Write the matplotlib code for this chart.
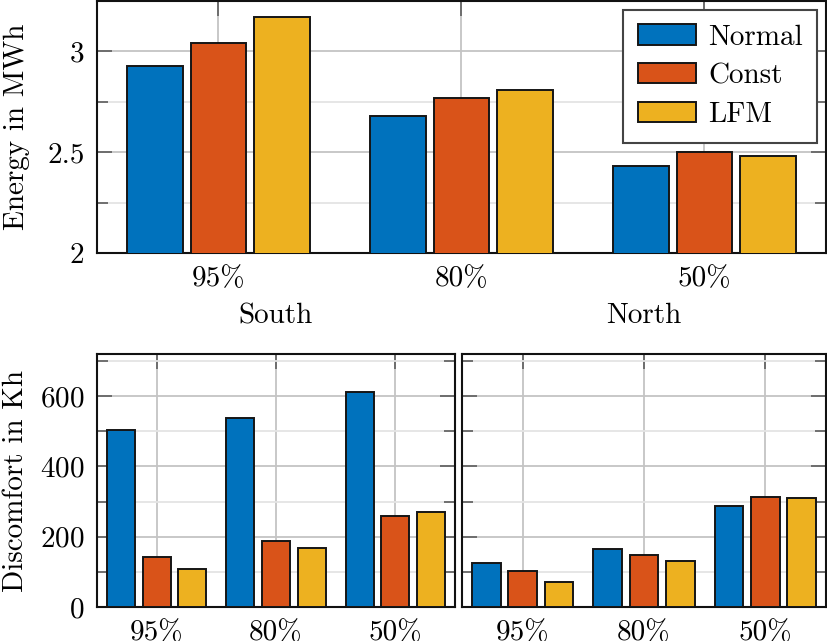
import numpy as np
import matplotlib
matplotlib.use('Agg')
import matplotlib.pyplot as plt
from matplotlib.ticker import MultipleLocator

plt.rcParams['font.family'] = 'cmr10'
plt.rcParams['mathtext.fontset'] = 'cm'
plt.rcParams['axes.formatter.use_mathtext'] = True

groups = ['95%', '80%', '50%']
series = ['Normal', 'Const', 'LFM']
colors = ['#0072BD', '#D95319', '#EDB120']

energy_normal = [2.93, 2.68, 2.43]
energy_const = [3.04, 2.77, 2.50]
energy_lfm = [3.17, 2.81, 2.48]

south_normal = [503, 537, 611]
south_const = [142, 187, 259]
south_lfm = [107, 168, 270]

north_normal = [124, 164, 287]
north_const = [102, 148, 313]
north_lfm = [70, 131, 310]

FS = 21

fig = plt.figure(figsize=(8.28, 6.41), dpi=100)
ax_top = fig.add_axes([97/828, 1-253/641, 729/828, 252/641])
ax_s = fig.add_axes([97/828, 1-607/641, 358/828, 253/641])
ax_n = fig.add_axes([462/828, 1-607/641, 364/828, 253/641])


def style(ax):
    ax.set_axisbelow(True)
    ax.set_xlim(-0.5, 2.5)
    ax.set_xticks(range(len(groups)))
    ax.set_xticklabels(groups, fontsize=FS)
    ax.grid(True, which='major', color='#c4c4c4', lw=1.3)
    ax.grid(True, which='minor', axis='y', color='#e4e4e4', lw=1.3)
    ax.tick_params(which='both', direction='in', top=True, right=True,
                   color='#666666', width=1.3, labelsize=FS)
    ax.tick_params(which='major', length=11, pad=9)
    ax.tick_params(which='minor', length=8)
    for s in ax.spines.values():
        s.set_linewidth(1.5)
        s.set_color('#111111')


def bars(ax, vals, off, width):
    x = np.arange(len(groups))
    for i, v in enumerate(vals):
        ax.bar(x + (i - 1) * off, v, width, color=colors[i],
               edgecolor='#151515', lw=1.4, label=series[i], zorder=3)


# top: energy
bars(ax_top, [energy_normal, energy_const, energy_lfm], 0.263, 0.23)
style(ax_top)
ax_top.set_ylim(2, 3.25)
ax_top.set_yticks([2, 2.5, 3])
ax_top.set_yticklabels(['2', '2.5', '3'])
ax_top.yaxis.set_minor_locator(MultipleLocator(0.25))
ax_top.set_ylabel('Energy in MWh', fontsize=FS, labelpad=12)
leg = ax_top.legend(loc='upper right', fontsize=FS, fancybox=False,
                    framealpha=1, edgecolor='#444444', handlelength=2.0,
                    handleheight=0.7, labelspacing=0.42, borderaxespad=0.3,
                    handletextpad=0.4, borderpad=0.5)
leg.get_frame().set_linewidth(1.5)

# bottom: discomfort
bars(ax_s, [south_normal, south_const, south_lfm], 0.3, 0.235)
bars(ax_n, [north_normal, north_const, north_lfm], 0.3, 0.235)
for ax in (ax_s, ax_n):
    style(ax)
    ax.set_ylim(0, 720)
    ax.set_yticks([0, 200, 400, 600])
    ax.yaxis.set_minor_locator(MultipleLocator(100))
ax_n.set_yticklabels([])
ax_s.set_ylabel('Discomfort in Kh', fontsize=FS, labelpad=8)
ax_s.set_title('South', fontsize=FS, pad=22)
ax_n.set_title('North', fontsize=FS, pad=22)

fig.savefig('out.png', dpi=100)
